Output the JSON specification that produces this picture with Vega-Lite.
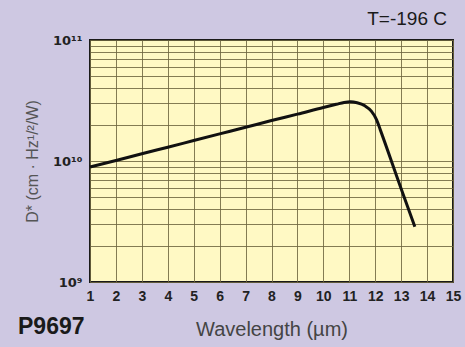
{
  "$schema": "https://vega.github.io/schema/vega-lite/v6.json",
  "width": 363,
  "height": 242,
  "autosize": {"type": "none"},
  "padding": {"left": 90, "top": 40, "right": 12, "bottom": 65},
  "background": "#CEC8E2",
  "config": {
    "view": {"fill": "#FFF9C4", "stroke": "#1a1a1a", "strokeWidth": 2},
    "font": "Liberation Sans",
    "axisX": {
      "values": [1, 2, 3, 4, 5, 6, 7, 8, 9, 10, 11, 12, 13, 14, 15],
      "grid": true,
      "gridColor": "#6e6640",
      "gridOpacity": 0.85,
      "ticks": false,
      "domain": false,
      "labelFontSize": 14,
      "labelFontWeight": "bold",
      "labelColor": "#222222",
      "labelPadding": 7,
      "labelFlush": false,
      "labelOverlap": false,
      "titleFontSize": 20,
      "titleFontWeight": "normal",
      "titleColor": "#444444",
      "titlePadding": 16
    },
    "axisY": {
      "values": [1e9, 2e9, 3e9, 4e9, 5e9, 6e9, 7e9, 8e9, 9e9, 1e10, 2e10, 3e10, 4e10, 5e10, 6e10, 7e10, 8e10, 9e10, 1e11],
      "labelExpr": "datum.value == 1e9 ? '10⁹' : datum.value == 1e10 ? '10¹⁰' : datum.value == 1e11 ? '10¹¹' : ''",
      "grid": true,
      "gridColor": "#6e6640",
      "gridOpacity": 0.85,
      "ticks": false,
      "domain": false,
      "labelFont": "DejaVu Sans",
      "labelFontSize": 13,
      "labelFontWeight": "bold",
      "labelColor": "#222222",
      "labelPadding": 8,
      "labelFlush": false,
      "labelOverlap": false,
      "titleFontSize": 16,
      "titleFontWeight": "normal",
      "titleColor": "#555555",
      "titlePadding": 12
    }
  },
  "title": {
    "text": "P9697",
    "orient": "bottom",
    "anchor": "start",
    "frame": "group",
    "dx": -72,
    "offset": -23,
    "fontSize": 23,
    "fontWeight": "bold",
    "color": "#1a1a1a"
  },
  "layer": [
    {
      "data": {
        "values": [
          {"wavelength": 1, "dstar": 8.91e9},
          {"wavelength": 2, "dstar": 1.01e10},
          {"wavelength": 3, "dstar": 1.148e10},
          {"wavelength": 4, "dstar": 1.30e10},
          {"wavelength": 5, "dstar": 1.476e10},
          {"wavelength": 6, "dstar": 1.675e10},
          {"wavelength": 7, "dstar": 1.90e10},
          {"wavelength": 8, "dstar": 2.16e10},
          {"wavelength": 9, "dstar": 2.44e10},
          {"wavelength": 10, "dstar": 2.77e10},
          {"wavelength": 10.5, "dstar": 2.94e10},
          {"wavelength": 10.8, "dstar": 3.05e10},
          {"wavelength": 11.05, "dstar": 3.09e10},
          {"wavelength": 11.3, "dstar": 3.03e10},
          {"wavelength": 11.6, "dstar": 2.86e10},
          {"wavelength": 11.85, "dstar": 2.58e10},
          {"wavelength": 12.05, "dstar": 2.2e10},
          {"wavelength": 12.2, "dstar": 1.8e10},
          {"wavelength": 13, "dstar": 5.9e9},
          {"wavelength": 13.53, "dstar": 2.86e9}
        ]
      },
      "mark": {"type": "line", "color": "#111111", "strokeWidth": 3, "interpolate": "monotone"},
      "encoding": {
        "x": {
          "field": "wavelength",
          "type": "quantitative",
          "scale": {"domain": [1, 15], "nice": false, "zero": false},
          "title": "Wavelength (µm)"
        },
        "y": {
          "field": "dstar",
          "type": "quantitative",
          "scale": {"type": "log", "domain": [1e9, 1e11], "nice": false},
          "title": "D* (cm · Hz¹/²/W)"
        }
      }
    },
    {
      "data": {"values": [{"note": "T=-196 C"}]},
      "mark": {"type": "text", "align": "right", "baseline": "alphabetic", "dx": -6, "dy": -15, "fontSize": 19, "color": "#1a1a1a"},
      "encoding": {
        "x": {"datum": 15, "type": "quantitative"},
        "y": {"datum": 1e11, "type": "quantitative"},
        "text": {"field": "note"}
      }
    }
  ]
}
